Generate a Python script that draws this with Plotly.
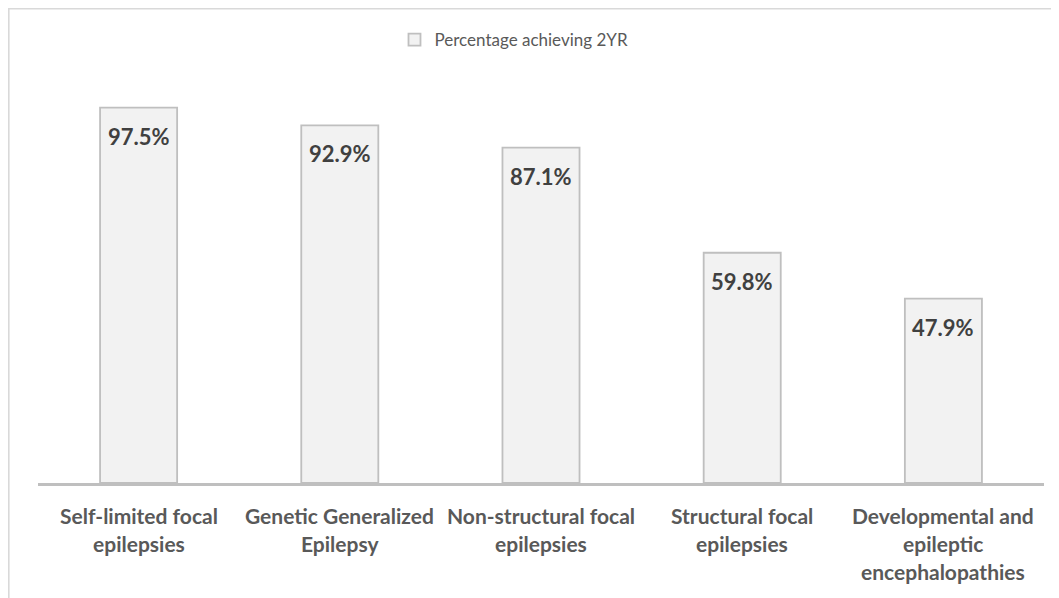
import plotly.graph_objects as go

categories = [
    "Self-limited focal<br>epilepsies",
    "Genetic Generalized<br>Epilepsy",
    "Non-structural focal<br>epilepsies",
    "Structural focal<br>epilepsies",
    "Developmental and<br>epileptic<br>encephalopathies",
]
values = [97.5, 92.9, 87.1, 59.8, 47.9]
value_labels = ["97.5%", "92.9%", "87.1%", "59.8%", "47.9%"]
series_name = "Percentage achieving 2YR"

FONT = "Lato"
TEXT_COLOR = "#595959"
LABEL_COLOR = "#404040"

# page has an 8px body margin; figure coordinates = page coordinates - 8
W, H = 1051, 590
ML, MR, MT, MB = 30, 15, 90, 115
pw, ph = W - ML - MR, H - MT - MB

def px_x(p):
    return (p - ML) / pw

def px_y(p):
    return (H - MB - p) / ph

fig = go.Figure()
fig.add_trace(go.Bar(
    x=categories,
    y=values,
    name=series_name,
    marker=dict(color="#F2F2F2", line=dict(color="#BFBFBF", width=1.8)),
    showlegend=True,
    hoverinfo="skip",
))

annotations = []
for c, v, t in zip(categories, values, value_labels):
    annotations.append(dict(
        x=c, y=v, xref="x", yref="y", text=t, showarrow=False,
        yanchor="top", yshift=-13,
        font=dict(family=FONT, size=22, color=LABEL_COLOR, weight="bold"),
    ))
    for i, line in enumerate(c.split("<br>")):
        annotations.append(dict(
            x=c, y=0, xref="x", yref="y", text=line, showarrow=False,
            yanchor="middle", yshift=-(32 + 28 * i),
            font=dict(family=FONT, size=21, color=TEXT_COLOR, weight="bold"),
        ))

shapes = [
    dict(type="line", xref="paper", yref="paper",
         x0=px_x(0), x1=px_x(W + 5), y0=px_y(0.8), y1=px_y(0.8),
         line=dict(color="#D9D9D9", width=1.6)),
    dict(type="line", xref="paper", yref="paper",
         x0=px_x(0.8), x1=px_x(0.8), y0=px_y(0), y1=px_y(H + 5),
         line=dict(color="#D9D9D9", width=1.6)),
]

fig.update_layout(
    width=W, height=H,
    margin=dict(l=ML, r=MR, t=MT, b=MB),
    paper_bgcolor="white", plot_bgcolor="white",
    bargap=0.617,
    font=dict(family=FONT, color=TEXT_COLOR),
    xaxis=dict(showticklabels=False, showline=True, linecolor="#BFBFBF",
               linewidth=3, ticks="", showgrid=False, zeroline=False),
    yaxis=dict(range=[0, 100], visible=False, showgrid=False, zeroline=False),
    legend=dict(orientation="h", x=px_x(506), y=px_y(32),
                xanchor="center", yanchor="middle",
                font=dict(family=FONT, size=17, color=TEXT_COLOR),
                itemwidth=30),
    annotations=annotations,
    shapes=shapes,
)

fig.write_html("out.html")
